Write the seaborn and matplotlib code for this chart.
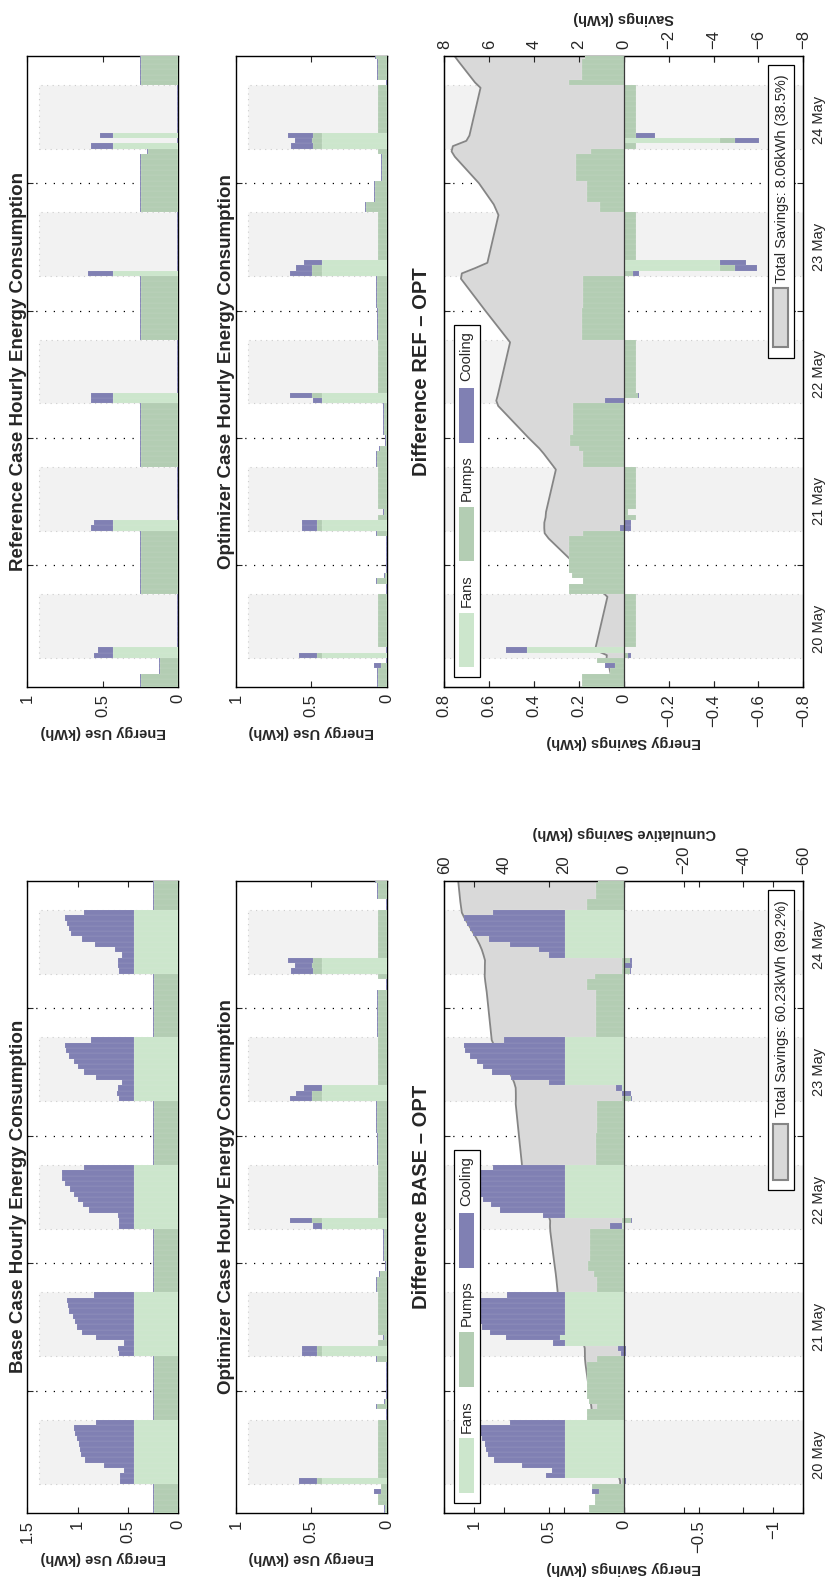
import numpy as np
import seaborn as sns
import matplotlib
matplotlib.use("Agg")
import matplotlib.pyplot as plt
from matplotlib.patches import Rectangle
from matplotlib.ticker import FixedLocator, FixedFormatter, FuncFormatter

sns.set_style("white")
plt.rcParams['font.family'] = ['Liberation Sans', 'DejaVu Sans']

FANS_C = '#cce6cc'
PUMPS_C = '#b3cdb3'
COOL_C = '#8080b3'
SHADE_C = '#f2f2f2'
CUM_C = '#d9d9d9'
CUM_LINE = '#858585'

# hourly bars, 20 May 01:00 .. 25 May 00:00
hours = np.arange(1, 121)
day_labels = ['20 May', '21 May', '22 May', '23 May', '24 May']
occ_first, occ_last = 7, 18          # occupied hours of day (shaded)

# ---------------- base case ----------------
base_day_total = [
    [0.58, 0.58, 0.54, 0.74, 0.93, 0.97, 0.98, 0.99, 1.01, 1.03, 1.04, 0.82],
    [0.585, 0.60, 0.535, 0.815, 0.955, 1.01, 1.03, 1.05, 1.09, 1.10, 1.11, 0.84],
    [0.585, 0.585, 0.60, 0.89, 0.95, 1.00, 1.04, 1.08, 1.13, 1.16, 1.16, 0.935],
    [0.585, 0.61, 0.60, 0.56, 0.815, 0.94, 1.00, 1.04, 1.09, 1.12, 1.13, 0.865],
    [0.585, 0.60, 0.60, 0.56, 0.625, 0.825, 0.96, 1.07, 1.09, 1.11, 1.13, 0.935],
]
base_fans_day = 0.44
base_pumps_day = 0.005
base_pumps_night = 0.245
cool_trace = 0.006

# ---------------- reference case ----------------
ref_pumps = [
    [.245, .245, .245, .12, .12, .12] + [0] * 12 + [.245] * 6,
    [.245] * 6 + [0] * 12 + [.245] * 6,
    [.245] * 6 + [0] * 12 + [.245] * 6,
    [.245] * 6 + [0] * 12 + [.245] * 6,
    [.245, .245, .245, .245, .245, .2] + [0] * 12 + [.245] * 6,
]
# fan-on hours of the reference case: {hour of day: total kWh}
ref_spikes = [
    {7: 0.56, 8: 0.53},
    {7: 0.58, 8: 0.56},
    {7: 0.576, 8: 0.576},
    {7: 0.60},
    {7: 0.576, 9: 0.516},
]
ref_fans_on = 0.43

# ---------------- optimizer case (vs reference) ----------------
opt_r_fans = [
    [0] * 6 + [.43] + [0] * 17,
    [0] * 6 + [.43, .43] + [0] * 16,
    [0] * 6 + [.43, .43] + [0] * 16,
    [0] * 6 + [.43, .43, .43] + [0] * 15,
    [0] * 6 + [.43, .43, .43] + [0] * 15,
]
opt_r_pumps = [
    [.06, .06, .06, .06, .035, 0, .033, 0, .055, .055, .055, .055,
     .055, .055, .055, .055, .055, .055, 0, 0, .065, .012, 0, 0],
    [0, 0, 0, 0, 0, .065, .033, .033, .055, .02, .055, .055,
     .055, .055, .055, .055, .055, .055, .065, .065, .065, .045, .005, .005],
    [.02, .02, .02, .02, .02, .02, 0, .066, .055, .055, .055, .055,
     .055, .055, .055, .055, .055, .055, .06, .06, .06, .06, .06, .06],
    [.065, .065, .065, .065, .065, .065, .066, .066, 0, .055, .055, .055,
     .055, .055, .055, .055, .055, .055, .14, .14, .08, .08, .08, .08],
    [.03, .03, .03, .03, .03, .055, .056, .067, .056, .055, .055, .055,
     .055, .055, .055, .055, .055, .055, 0, .06, .06, .06, .06, .07],
]
opt_r_cool = [
    [.006, .006, .006, .006, .05, .006, .117] + [.006] * 17,
    [.006] * 6 + [.10, .10] + [.006] * 16,
    [.006] * 6 + [.06, .145] + [.006] * 16,
    [.006] * 6 + [.144, .104, .12] + [.006] * 15,
    [.006] * 6 + [.146, .11, .168] + [.006] * 15,
]

# ---------------- optimizer case (vs base) ----------------
opt_b_fans = [
    [0] * 6 + [.43] + [0] * 17,
    [0] * 6 + [.43, .43] + [0] * 16,
    [0] * 6 + [.43, .43] + [0] * 16,
    [0] * 6 + [.43, .43, .43] + [0] * 15,
    [0] * 6 + [.43, .43, .43] + [0] * 15,
]
opt_b_pumps = [
    [.012, .012, .055, .055, .035, .035, .033, .055, .055, .055, .055, .055,
     .055, .055, .055, .055, .055, .055, 0, 0, .065, .012, 0, 0],
    [0, 0, 0, 0, 0, .065, .033, .033, .055, .02, .055, .055,
     .055, .055, .055, .055, .055, .055, .065, .065, .065, .045, .005, .005],
    [.02, .02, .02, .02, .02, .02, 0, .066, .055, .055, .055, .055,
     .055, .055, .055, .055, .055, .055, .06, .06, .06, .06, .06, .06],
    [.065, .065, .065, .065, .065, .065, .066, .066, 0, .055, .055, .055,
     .055, .055, .055, .055, .055, .055, .06, .06, .06, .06, .06, .06],
    [.06, .06, .06, 0, 0, .055, .056, .067, .056, .055, .055, .055,
     .055, .055, .055, .055, .055, .055, 0, 0, .06, .06, .06, .07],
]
opt_b_cool = [
    [.006, .006, .006, .006, .05, .006, .117] + [.006] * 17,
    [.006] * 6 + [.10, .10] + [.006] * 16,
    [.006] * 6 + [.06, .145] + [.006] * 16,
    [.006] * 6 + [.144, .104, .12] + [.006] * 15,
    [.006] * 6 + [.146, .11, .168] + [.006] * 15,
]

totals_text = {'base': 'Total Savings: 60.23kWh (89.2%)',
               'ref': 'Total Savings: 8.06kWh (38.5%)'}


def flat(rows):
    return np.concatenate([np.asarray(r, dtype=float) for r in rows])


hod = (hours - 1) % 24 + 1
occ = (hod >= occ_first) & (hod <= occ_last)

base_fans = np.where(occ, base_fans_day, 0.0)
base_pumps = np.where(occ, base_pumps_day, base_pumps_night)
base_tot = np.zeros(120)
for d, row in enumerate(base_day_total):
    base_tot[24 * d + occ_first - 1: 24 * d + occ_last] = row
base_cool = np.where(occ, base_tot - base_fans - base_pumps, cool_trace)

ref_p = flat(ref_pumps)
ref_f = np.zeros(120)
ref_c = np.full(120, cool_trace)
for d, sp in enumerate(ref_spikes):
    for h, tot in sp.items():
        ref_f[24 * d + h - 1] = ref_fans_on
        ref_c[24 * d + h - 1] = tot - ref_fans_on

ob_f, ob_p, ob_c = flat(opt_b_fans), flat(opt_b_pumps), flat(opt_b_cool)
or_f, or_p, or_c = flat(opt_r_fans), flat(opt_r_pumps), flat(opt_r_cool)

# ---------------- figure ----------------
W, H = 836, 1590
fig = plt.figure(figsize=(W / 100, H / 100), dpi=100)


def rect(x0, x1, y0, y1):
    return [x0 / W, 1 - y1 / H, (x1 - x0) / W, (y1 - y0) / H]


def num_fmt(v, pos):
    if abs(v) < 1e-9:
        return '0'
    s = ('%.1f' % v).rstrip('0').rstrip('.')
    return s.replace('-', '\u2212')


def shade_and_grid(ax, xmin):
    for d in range(5):
        ax.axhspan(24 * d + occ_first - 0.5, 24 * d + occ_last + 0.5, xmin=xmin, xmax=1,
                   facecolor=SHADE_C, edgecolor='#cccccc', linestyle=(0, (1, 4)),
                   linewidth=0.8, zorder=0)
    for d in range(1, 5):
        ax.axhline(24 * d, color='black', linestyle=(0, (1, 6)), linewidth=0.9, zorder=1)


def draw_bars(ax, fans, pumps, cool):
    left = np.zeros(len(hours))
    for vals, col in [(fans, FANS_C), (pumps, PUMPS_C), (cool, COOL_C)]:
        ax.barh(hours, vals, left=left, height=1.0, color=col,
                edgecolor='white', linewidth=0.05, zorder=3)
        left = left + vals


def style_axes(ax, lim_hi, lim_lo, ticks):
    ax.set_xlim(lim_hi, lim_lo)
    ax.set_ylim(1, 120)
    ax.set_xticks(ticks)
    ax.xaxis.set_major_formatter(FuncFormatter(num_fmt))
    ax.tick_params(axis='x', direction='in', top=True, bottom=True, length=4,
                   labelrotation=90, labelsize=12, pad=5, width=0.8)
    ax.yaxis.set_major_locator(FixedLocator([24, 48, 72, 96]))
    ax.tick_params(axis='y', which='major', direction='in', left=True, right=True,
                   length=4, labelleft=False, labelright=False, width=0.8)
    for sp in ax.spines.values():
        sp.set_color('black')
        sp.set_linewidth(1.0)


def energy_panel(box, title, fans, pumps, cool, vmax, ticks):
    ax = fig.add_axes(rect(*box))
    shade_and_grid(ax, 0.077)
    draw_bars(ax, fans, pumps, cool)
    style_axes(ax, vmax, 0, ticks)
    ax.set_xlabel('Energy Use (kWh)', rotation=180, fontweight='bold', fontsize=10.5, labelpad=6)
    ax.text(-0.005, 0.5, title, transform=ax.transAxes, rotation=90, ha='right',
            va='center', fontsize=13.5, fontweight='bold')
    return ax


def diff_panel(box, title, df, dp, dc, lim, ticks, cum_lim, cum_ticks, cum_label,
               total, tbox):
    ax = fig.add_axes(rect(*box))
    ax2 = ax.twiny()
    ax.set_zorder(ax2.get_zorder() + 1)
    ax.patch.set_visible(False)

    shade_and_grid(ax2, 0.0)
    cum = np.cumsum(df + dp + dc)
    ax2.fill_betweenx(hours, 0, cum, color=CUM_C, linewidth=0, zorder=2)
    sns.lineplot(x=cum, y=hours, ax=ax2, orient='y', color=CUM_LINE,
                 linewidth=1.3, zorder=3, estimator=None)
    ax2.set_xlim(cum_lim, -cum_lim)
    ax2.set_xticks(cum_ticks)
    ax2.xaxis.set_major_formatter(FuncFormatter(num_fmt))
    ax2.tick_params(axis='x', direction='in', top=True, bottom=True, labeltop=True,
                    labelbottom=False, length=4, labelrotation=90, labelsize=12,
                    pad=5, width=0.8)
    ax2.set_xlabel(cum_label, rotation=180, fontweight='bold', fontsize=10.5, labelpad=6)
    ax2.xaxis.set_label_position('top')
    ax2.set_ylabel('')

    draw_bars(ax, df, dp, dc)
    ax.axvline(0, color='#3a3a3a', linewidth=0.9, zorder=4)
    style_axes(ax, lim, -lim, ticks)
    ax.set_ylim(1, 120)
    ax.yaxis.set_minor_locator(FixedLocator([24 * d + 12 for d in range(5)]))
    ax.yaxis.set_minor_formatter(FixedFormatter(day_labels))
    ax.tick_params(axis='y', which='minor', length=0, labelright=True, labelleft=False,
                   labelrotation=90, labelsize=10.5, pad=6)
    for lbl in ax.get_yticklabels(minor=True):
        lbl.set_va('center')
    ax.set_xlabel('Energy Savings (kWh)', rotation=180, fontweight='bold',
                  fontsize=10.5, labelpad=6)
    ax.text(-0.037, 0.5, title, transform=ax.transAxes, rotation=90, ha='right',
            va='center', fontsize=14.5, fontweight='bold')

    # component legend (drawn rotated, like the page)
    tr = ax.transAxes
    ax.add_patch(Rectangle((0.028, 0.0155), 0.0716, 0.558, transform=tr,
                           facecolor='white', edgecolor='black', linewidth=0.9, zorder=6))
    for (y0, y1, ty, name, col) in [(0.031, 0.118, 0.127, 'Fans', FANS_C),
                                    (0.199, 0.286, 0.295, 'Pumps', PUMPS_C),
                                    (0.387, 0.474, 0.485, 'Cooling', COOL_C)]:
        ax.add_patch(Rectangle((0.042, y0), 0.040, y1 - y0, transform=tr,
                               facecolor=col, edgecolor='none', zorder=7))
        ax.text(0.0625, ty, name, transform=tr, rotation=90, ha='center', va='bottom',
                fontsize=10.5, zorder=7)

    # total savings legend
    b0, p0, p1, t0 = tbox
    ax.add_patch(Rectangle((0.901, b0), 0.074, 0.985 - b0, transform=tr,
                           facecolor='white', edgecolor='black', linewidth=0.9, zorder=6))
    ax.add_patch(Rectangle((0.915, p0), 0.0415, p1 - p0, transform=tr,
                           facecolor=CUM_C, edgecolor=CUM_LINE, linewidth=1.5, zorder=7))
    ax.text(0.942, t0, total, transform=tr, rotation=90, ha='center', va='bottom',
            fontsize=10.5, zorder=7)
    return ax


bot = (880.7, 1513.0)
top = (56.0, 687.0)
col1 = (27.3, 178.3)
col2 = (236.0, 386.7)
col3 = (444.3, 803.3)

# left half of the page (base vs optimizer)
energy_panel(col1 + bot, 'Base Case Hourly Energy Consumption',
             base_fans, base_pumps, base_cool, 1.5, [0, 0.5, 1, 1.5])
energy_panel(col2 + bot, 'Optimizer Case Hourly Energy Consumption',
             ob_f, ob_p, ob_c, 1.0, [0, 0.5, 1])
diff_panel(col3 + bot, 'Difference BASE \u2013 OPT',
           base_fans - ob_f, base_pumps - ob_p, base_cool - ob_c,
           1.2, [-1, -0.5, 0, 0.5, 1], 60, [-60, -40, -20, 0, 20, 40, 60],
           'Cumulative Savings (kWh)', totals_text['base'],
           (0.511, 0.527, 0.616, 0.626))

# right half of the page (reference vs optimizer)
energy_panel(col1 + top, 'Reference Case Hourly Energy Consumption',
             ref_f, ref_p, ref_c, 1.0, [0, 0.5, 1])
energy_panel(col2 + top, 'Optimizer Case Hourly Energy Consumption',
             or_f, or_p, or_c, 1.0, [0, 0.5, 1])
diff_panel(col3 + top, 'Difference REF \u2013 OPT',
           ref_f - or_f, ref_p - or_p, ref_c - or_c,
           0.8, [-0.8, -0.6, -0.4, -0.2, 0, 0.2, 0.4, 0.6, 0.8], 8,
           [-8, -6, -4, -2, 0, 2, 4, 6, 8],
           'Savings (kWh)', totals_text['ref'],
           (0.521, 0.539, 0.632, 0.640))

fig.savefig('out.png', dpi=100)
